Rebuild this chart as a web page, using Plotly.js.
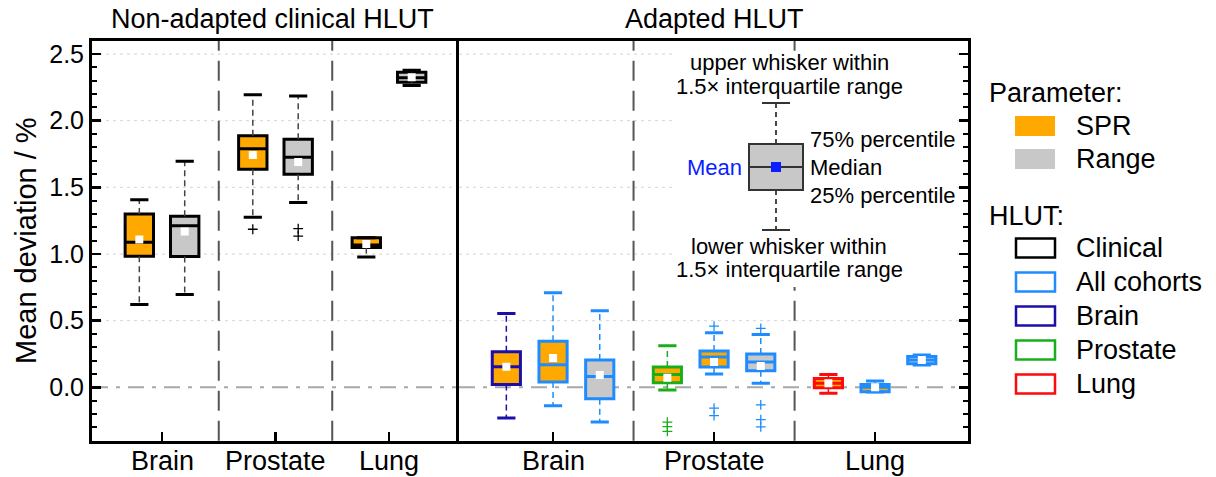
<!DOCTYPE html>
<html>
<head>
<meta charset="utf-8">
<script src="https://cdn.plot.ly/plotly-3.0.1.min.js"></script>
<style>html,body{margin:0;padding:0;background:#fff}#chart{width:1216px;height:477px}</style>
</head>
<body>
<div id="chart"></div>
<script>
// ---------------- data ----------------
const categories = ['Brain', 'Prostate', 'Lung'];

// Non-adapted clinical HLUT : SPR
const sprClinicalQ1     = [0.984, 1.635, 1.049];
const sprClinicalMedian = [1.089, 1.790, 1.068];
const sprClinicalQ3     = [1.300, 1.888, 1.122];
const sprClinicalLower  = [0.622, 1.276, 0.978];
const sprClinicalUpper  = [1.408, 2.195, 1.122];
const sprClinicalMean   = [1.109, 1.743, 1.076];
const sprClinicalOut    = [[], [1.186], []];

// Non-adapted clinical HLUT : Range
const rangeClinicalQ1     = [0.981, 1.598, 2.289];
const rangeClinicalMedian = [1.213, 1.725, 2.322];
const rangeClinicalQ3     = [1.283, 1.860, 2.364];
const rangeClinicalLower  = [0.697, 1.386, 2.264];
const rangeClinicalUpper  = [1.695, 2.185, 2.379];
const rangeClinicalMean   = [1.169, 1.690, 2.325];
const rangeClinicalOut    = [[], [1.191, 1.134], []];

// Adapted HLUT : SPR, cohort-specific HLUT (Brain / Prostate / Lung)
const sprCohortQ1     = [0.022, 0.035, -0.003];
const sprCohortMedian = [0.154, 0.097, 0.030];
const sprCohortQ3     = [0.268, 0.152, 0.067];
const sprCohortLower  = [-0.229, -0.020, -0.045];
const sprCohortUpper  = [0.554, 0.313, 0.097];
const sprCohortMean   = [0.155, 0.072, 0.030];
const sprCohortOut    = [[], [-0.260, -0.295, -0.330], []];

// Adapted HLUT : SPR, all-cohorts HLUT
const sprAllQ1     = [0.040, 0.152, -0.033];
const sprAllMedian = [0.170, 0.228, 0.000];
const sprAllQ3     = [0.346, 0.273, 0.022];
const sprAllLower  = [-0.138, 0.101, -0.035];
const sprAllUpper  = [0.709, 0.410, 0.048];
const sprAllMean   = [0.220, 0.191, 0.000];
const sprAllOut    = [[], [0.459, -0.155, -0.212], []];

// Adapted HLUT : Range, all-cohorts HLUT
const rangeAllQ1     = [-0.085, 0.125, 0.178];
const rangeAllMedian = [0.082, 0.190, 0.205];
const rangeAllQ3     = [0.205, 0.250, 0.232];
const rangeAllLower  = [-0.260, 0.030, 0.168];
const rangeAllUpper  = [0.574, 0.397, 0.243];
const rangeAllMean   = [0.092, 0.160, 0.205];
const rangeAllOut    = [[], [0.442, -0.132, -0.242, -0.297], []];

const yTickVals = [0, 0.5, 1.0, 1.5, 2.0, 2.5];
const dividerPositions = [0.5, 1.5];

// ---------------- styles ----------------
const ORANGE = '#ffa800', GRAY = '#c8c8c8';
const C_CLIN = '#000000', C_ALL = '#1e8cff', C_BRAIN = '#1a0fa8', C_PROST = '#1aae1a', C_LUNG = '#ff0a0a';
const FONT = 'Liberation Sans, Arial, Helvetica, sans-serif';

const series = [
  {ax: 'x', ay: 'y', off: -0.2, w: 0.25, fill: ORANGE, line: [C_CLIN, C_CLIN, C_CLIN], whisk: '#444',
   q1: sprClinicalQ1, med: sprClinicalMedian, q3: sprClinicalQ3, lo: sprClinicalLower, hi: sprClinicalUpper, mean: sprClinicalMean, out: sprClinicalOut},
  {ax: 'x', ay: 'y', off: 0.2, w: 0.25, fill: GRAY, line: [C_CLIN, C_CLIN, C_CLIN], whisk: '#444',
   q1: rangeClinicalQ1, med: rangeClinicalMedian, q3: rangeClinicalQ3, lo: rangeClinicalLower, hi: rangeClinicalUpper, mean: rangeClinicalMean, out: rangeClinicalOut},
  {ax: 'x2', ay: 'y2', off: -0.29, w: 0.175, fill: ORANGE, line: [C_BRAIN, C_PROST, C_LUNG], whisk: null,
   q1: sprCohortQ1, med: sprCohortMedian, q3: sprCohortQ3, lo: sprCohortLower, hi: sprCohortUpper, mean: sprCohortMean, out: sprCohortOut},
  {ax: 'x2', ay: 'y2', off: 0.0, w: 0.175, fill: ORANGE, line: [C_ALL, C_ALL, C_ALL], whisk: null,
   q1: sprAllQ1, med: sprAllMedian, q3: sprAllQ3, lo: sprAllLower, hi: sprAllUpper, mean: sprAllMean, out: sprAllOut},
  {ax: 'x2', ay: 'y2', off: 0.29, w: 0.175, fill: GRAY, line: [C_ALL, C_ALL, C_ALL], whisk: null,
   q1: rangeAllQ1, med: rangeAllMedian, q3: rangeAllQ3, lo: rangeAllLower, hi: rangeAllUpper, mean: rangeAllMean, out: rangeAllOut}
];

const traces = [];
series.forEach(s => {
  categories.forEach((c, i) => {
    const p = i + s.off;
    const col = s.line[i];
    // dashed whiskers
    traces.push({type: 'scatter', mode: 'lines', xaxis: s.ax, yaxis: s.ay, hoverinfo: 'skip', showlegend: false,
      x: [p, p, null, p, p], y: [s.q3[i], s.hi[i], null, s.q1[i], s.lo[i]],
      line: {color: s.whisk || col, width: 1.5, dash: '6px,4px'}});
    // whisker caps
    traces.push({type: 'scatter', mode: 'markers', xaxis: s.ax, yaxis: s.ay, hoverinfo: 'skip', showlegend: false,
      x: [p, p], y: [s.hi[i], s.lo[i]],
      marker: {symbol: 'line-ew', size: 13, line: {color: col, width: 3}}});
    // box
    traces.push({type: 'box', xaxis: s.ax, yaxis: s.ay, showlegend: false, boxpoints: false,
      x: [p], q1: [s.q1[i]], median: [s.med[i]], q3: [s.q3[i]],
      lowerfence: [s.q1[i]], upperfence: [s.q3[i]],
      width: s.w, whiskerwidth: 0, fillcolor: s.fill, line: {color: col, width: 3}});
    // mean
    traces.push({type: 'scatter', mode: 'markers', xaxis: s.ax, yaxis: s.ay, hoverinfo: 'skip', showlegend: false,
      x: [p], y: [s.mean[i]], marker: {symbol: 'square', size: 8, color: '#ffffff', line: {width: 0}}});
    // outliers
    if (s.out[i].length) {
      traces.push({type: 'scatter', mode: 'markers', xaxis: s.ax, yaxis: s.ay, hoverinfo: 'skip', showlegend: false,
        x: s.out[i].map(() => p), y: s.out[i],
        marker: {symbol: 'cross-thin', size: 7, line: {color: col, width: 1.3}}});
    }
  });
});

// ---------------- layout helpers ----------------
const W = 1216, H = 477;
const PX = x => x / W;
const PY = y => 1 - y / H;

const shapes = [];
// grid + zero line + dividers, each panel
[['x', 'y'], ['x2', 'y2']].forEach(([xa, ya]) => {
  yTickVals.forEach(v => {
    if (v === 0) return;
    shapes.push({type: 'line', layer: 'below', xref: xa + ' domain', yref: ya, x0: 0, x1: 1, y0: v, y1: v,
      line: {color: '#dcdcdc', width: 1.2, dash: '3px,4px'}});
  });
  shapes.push({type: 'line', layer: 'below', xref: xa + ' domain', yref: ya, x0: 0, x1: 1, y0: 0, y1: 0,
    line: {color: '#a8a8a8', width: 2, dash: '16px,8px,4px,8px'}});
  dividerPositions.forEach(d => {
    shapes.push({type: 'line', layer: 'below', xref: xa, yref: ya + ' domain', x0: d, x1: d, y0: 0, y1: 1,
      line: {color: '#555555', width: 2, dash: '20px,10px'}});
  });
});

// inset explanation (white background)
shapes.push({type: 'rect', layer: 'above', xref: 'paper', yref: 'paper',
  x0: PX(672), x1: PX(957), y0: PY(287), y1: PY(51), fillcolor: '#ffffff', line: {width: 0}});
const INK = '#333333';
shapes.push({type: 'line', layer: 'above', xref: 'paper', yref: 'paper', x0: PX(776), x1: PX(776), y0: PY(103), y1: PY(144), line: {color: INK, width: 1.8, dash: '5px,4px'}});
shapes.push({type: 'line', layer: 'above', xref: 'paper', yref: 'paper', x0: PX(776), x1: PX(776), y0: PY(190), y1: PY(230), line: {color: INK, width: 1.8, dash: '5px,4px'}});
shapes.push({type: 'line', layer: 'above', xref: 'paper', yref: 'paper', x0: PX(762), x1: PX(790), y0: PY(103), y1: PY(103), line: {color: INK, width: 2}});
shapes.push({type: 'line', layer: 'above', xref: 'paper', yref: 'paper', x0: PX(762), x1: PX(790), y0: PY(230), y1: PY(230), line: {color: INK, width: 2}});
shapes.push({type: 'rect', layer: 'above', xref: 'paper', yref: 'paper', x0: PX(749), x1: PX(803), y0: PY(190), y1: PY(144), fillcolor: GRAY, line: {color: INK, width: 2}});
shapes.push({type: 'line', layer: 'above', xref: 'paper', yref: 'paper', x0: PX(749), x1: PX(803), y0: PY(167), y1: PY(167), line: {color: INK, width: 2}});
shapes.push({type: 'rect', layer: 'above', xref: 'paper', yref: 'paper', x0: PX(771), x1: PX(781), y0: PY(172), y1: PY(162), fillcolor: '#0a1eff', line: {width: 0}});

// legend swatches
const legendFilled = [{label: 'SPR', color: ORANGE, y: 126}, {label: 'Range', color: GRAY, y: 159}];
const legendOutline = [
  {label: 'Clinical', color: C_CLIN, y: 248}, {label: 'All cohorts', color: C_ALL, y: 282},
  {label: 'Brain', color: C_BRAIN, y: 316}, {label: 'Prostate', color: C_PROST, y: 350}, {label: 'Lung', color: C_LUNG, y: 384}];
legendFilled.forEach(l => shapes.push({type: 'rect', xref: 'paper', yref: 'paper', x0: PX(1015), x1: PX(1055), y0: PY(l.y + 10), y1: PY(l.y - 10), fillcolor: l.color, line: {width: 0}}));
legendOutline.forEach(l => shapes.push({type: 'rect', xref: 'paper', yref: 'paper', x0: PX(1016), x1: PX(1055), y0: PY(l.y + 9.5), y1: PY(l.y - 9.5), fillcolor: 'rgba(0,0,0,0)', line: {color: l.color, width: 2.5}}));

const annotations = [];
const ann = (text, x, y, xanchor, size, color, extra) => annotations.push(Object.assign({
  text, x: PX(x), y: PY(y), xref: 'paper', yref: 'paper', xanchor: xanchor, yanchor: 'middle', showarrow: false,
  font: {family: FONT, size: size, color: color || '#000'}}, extra || {}));

ann('Non-adapted clinical HLUT', 272, 19, 'center', 27);
ann('Adapted HLUT', 714, 19, 'center', 27);
ann('Mean deviation / %', 26, 241, 'center', 29, '#000', {textangle: -90});

ann('upper whisker within', 789, 63, 'center', 22);
ann('1.5× interquartile range', 789, 86, 'center', 22);
ann('75% percentile', 808, 139, 'left', 22);
ann('Median', 808, 167, 'left', 22);
ann('25% percentile', 808, 195, 'left', 22);
ann('Mean', 744, 167, 'right', 22, '#0a1eff');
ann('lower whisker within', 789, 246, 'center', 22);
ann('1.5× interquartile range', 789, 269, 'center', 22);

ann('Parameter:', 987, 93, 'left', 27);
legendFilled.forEach(l => ann(l.label, 1074, l.y, 'left', 27));
ann('HLUT:', 987, 216, 'left', 27);
legendOutline.forEach(l => ann(l.label, 1074, l.y, 'left', 27));

// category labels under each panel (placed on the category axis positions)
['x', 'x2'].forEach(xa => {
  categories.forEach((c, i) => annotations.push({text: c, x: i, xref: xa, y: PY(461), yref: 'paper',
    xanchor: 'center', yanchor: 'middle', showarrow: false, font: {family: FONT, size: 27, color: '#000'}}));
});

const yDom = [1 - 440.7 / H, 1 - 40.7 / H];
const yCommon = {
  domain: yDom, range: [-0.4, 2.6], tick0: 0, dtick: 0.5, tickformat: '.1f',
  ticks: 'inside', ticklen: 9, tickwidth: 2.5, tickcolor: '#000',
  minor: {tick0: 0, dtick: 0.1, ticks: 'inside', ticklen: 5, tickwidth: 2, tickcolor: '#000', showgrid: false},
  showline: true, linewidth: 3, linecolor: '#000', mirror: true, showgrid: false, zeroline: false,
  tickfont: {family: FONT, size: 25, color: '#000'}, fixedrange: true
};
const xCommon = {
  tickvals: [0, 1, 2], ticktext: categories, showticklabels: false, ticks: 'inside', ticklen: 9, tickwidth: 2.5, tickcolor: '#000',
  showline: true, linewidth: 3, linecolor: '#000', mirror: true, showgrid: false, zeroline: false,
  tickfont: {family: FONT, size: 27, color: '#000'}, fixedrange: true
};

const layout = {
  width: W, height: H, margin: {l: 0, r: 0, t: 0, b: 0},
  paper_bgcolor: '#fff', plot_bgcolor: '#fff', showlegend: false,
  font: {family: FONT, color: '#000'},
  xaxis: Object.assign({}, xCommon, {domain: [92 / W, 459 / W], range: [-0.617, 2.617], anchor: 'y'}),
  yaxis: Object.assign({}, yCommon, {anchor: 'x', side: 'left', mirror: false}),
  xaxis2: Object.assign({}, xCommon, {domain: [459 / W, 968 / W], range: [-0.584, 2.577], anchor: 'y2'}),
  yaxis2: Object.assign({}, yCommon, {anchor: 'x2', side: 'right', showticklabels: false}),
  shapes, annotations
};

Plotly.newPlot('chart', traces, layout, {displayModeBar: false, staticPlot: true});
</script>
</body>
</html>
